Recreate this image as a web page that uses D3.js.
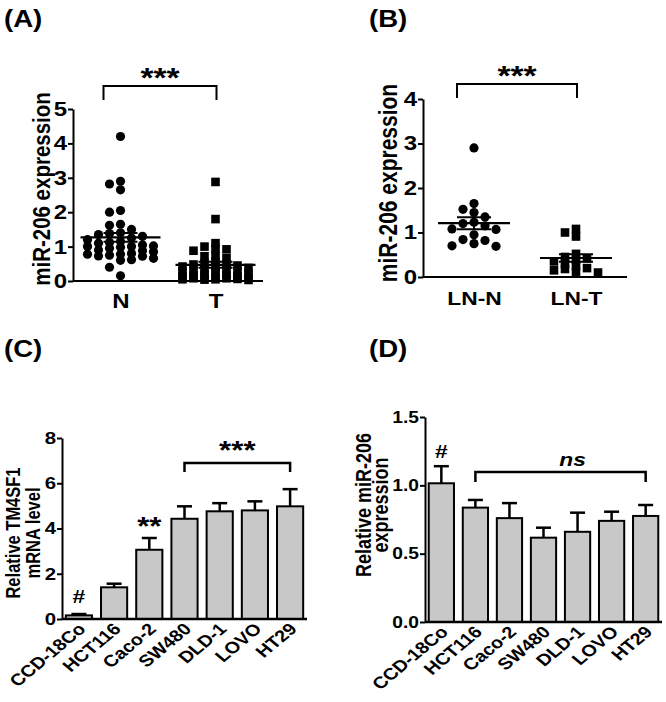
<!DOCTYPE html>
<html>
<head>
<meta charset="utf-8">
<script src="https://cdn.jsdelivr.net/npm/d3@7"></script>
<style>
  html, body { margin: 0; padding: 0; background: #fff; }
  svg text { font-family: "Liberation Sans", Arial, sans-serif; font-weight: bold; fill: #000; }
</style>
</head>
<body>
<svg id="chart" width="666" height="702"></svg>
<script>
// ---------- Data ----------
// Panel A: miR-206 expression, normal (N) vs tumour (T)
const groupsA = ["N", "T"];
const valuesN = [4.2, 2.9, 2.82, 2.65, 2.05, 2.0, 1.65, 1.62, 1.5, 1.4, 1.38, 1.35, 1.3, 1.25, 1.2, 1.15, 1.12, 1.1, 1.05, 1.02, 1.0, 1.0, 0.98, 0.95, 0.9, 0.88, 0.85, 0.8, 0.78, 0.78, 0.75, 0.73, 0.72, 0.66, 0.62, 0.6, 0.4, 0.15];
const valuesT = [2.88, 1.8, 1.1, 1.0, 0.93, 0.92, 0.88, 0.73, 0.72, 0.66, 0.56, 0.52, 0.5, 0.48, 0.45, 0.42, 0.4, 0.38, 0.35, 0.33, 0.3, 0.28, 0.26, 0.25, 0.22, 0.2, 0.18, 0.16, 0.15, 0.13, 0.12, 0.1, 0.1, 0.08, 0.08, 0.06, 0.05, 0.05, 0.04, 0.03];
const ticksA = [0, 1, 2, 3, 4, 5];

// Panel B: lymph-node normal vs tumour
const groupsB = ["LN-N", "LN-T"];
const valuesLNN = [2.9, 1.65, 1.52, 1.45, 1.35, 1.23, 1.2, 1.15, 1.08, 1.07, 0.95, 0.84, 0.82, 0.75, 0.7, 0.69];
const valuesLNT = [1.08, 1.0, 0.91, 0.52, 0.45, 0.42, 0.38, 0.35, 0.3, 0.25, 0.2, 0.18, 0.15, 0.12, 0.1];
const ticksB = [0, 1, 2, 3, 4];

// Panels C & D: cell lines
const cellLines = ["CCD-18Co", "HCT116", "Caco-2", "SW480", "DLD-1", "LOVO", "HT29"];
const tm4sf1Mean = [0.16, 1.4, 3.06, 4.43, 4.76, 4.8, 4.98];
const tm4sf1Err  = [0.06, 0.16, 0.52, 0.55, 0.36, 0.4, 0.76];
const ticksC = [0, 2, 4, 6, 8];
const mir206Mean = [1.015, 0.837, 0.76, 0.617, 0.66, 0.74, 0.776];
const mir206Err  = [0.125, 0.056, 0.11, 0.073, 0.14, 0.067, 0.08];
const ticksD = [0, 0.5, 1.0, 1.5];

// ---------- Helpers ----------
const svg = d3.select("#chart");
const FONT = "'Liberation Sans', Arial, sans-serif";
const SX = 1.2; // the original figure's lettering is horizontally wide

function hText(g, x, y, txt, size, anchor = "middle") {
  return g.append("text").attr("transform", `translate(${x},${y}) scale(${SX},1)`)
    .attr("text-anchor", anchor).attr("font-size", size).text(txt);
}
function vText(g, x, y, txt, size) {
  return g.append("text").attr("transform", `translate(${x},${y}) rotate(-90) scale(1,${SX})`)
    .attr("text-anchor", "middle").attr("font-size", size).text(txt);
}

function styleAxis(g, fontSize) {
  g.selectAll("path.domain").attr("stroke", "#000").attr("stroke-width", 2);
  g.selectAll(".tick line").attr("stroke", "#000").attr("stroke-width", 2);
  g.selectAll(".tick text").attr("font-family", FONT).attr("font-weight", "bold")
    .attr("font-size", fontSize).attr("fill", "#000");
}
function yTickText(axisG, off) {
  axisG.selectAll(".tick text").attr("x", null).attr("transform", `translate(${-off},0) scale(${SX},1)`);
}

function swarm(values, y, minGap, maxCol) {
  const placed = [];
  const sorted = values.slice().sort((a, b) => b - a);
  for (const v of sorted) {
    const py = y(v);
    let chosen = null, best = 0, bestD = -1;
    for (let k = 0; k <= 2 * maxCol; k++) {
      const col = k === 0 ? 0 : (k % 2 ? -Math.ceil(k / 2) : Math.ceil(k / 2));
      const d = d3.min(placed.filter(q => q.col === col), q => Math.abs(q.py - py));
      if (d === undefined || d >= minGap) { chosen = col; break; }
      if (d > bestD) { bestD = d; best = col; }
    }
    if (chosen === null) chosen = best;
    placed.push({ v, col: chosen, py });
  }
  return placed;
}

function sem(arr) { return d3.deviation(arr) / Math.sqrt(arr.length); }

function scatterPanel(opt) {
  const { groups, series, shapes, yDomain, yRange, xRange, ticks, tickFont, labelFont,
          title, titleX, titleY, titleFont, xLabelY, bracketY, starsY, meanHalf, gaps } = opt;
  const y = d3.scaleLinear().domain(yDomain).range(yRange);
  const x = d3.scalePoint().domain(groups).range(xRange).padding(0.5);
  const g = svg.append("g");

  const ya = g.append("g").attr("transform", `translate(${xRange[0]},0)`)
    .call(d3.axisLeft(y).tickValues(ticks).tickFormat(d3.format("d")).tickSize(5).tickSizeOuter(0));
  styleAxis(ya, tickFont);
  yTickText(ya, 6);
  const xa = g.append("g").attr("transform", `translate(0,${yRange[0]})`)
    .call(d3.axisBottom(x).tickSize(0).tickSizeOuter(0));
  styleAxis(xa, labelFont);
  xa.select("path.domain").attr("d", `M${xRange[0]},0H${xRange[1]}`);
  xa.selectAll(".tick text").attr("dy", null).attr("y", null)
    .attr("transform", `translate(0,${xLabelY - yRange[0]}) scale(${SX},1)`);

  groups.forEach((grp, gi) => {
    const vals = series[gi];
    const pts = swarm(vals, y, gaps[gi], 3);
    const cx = x(grp);
    if (shapes[gi] === "circle") {
      g.selectAll(null).data(pts).join("circle")
        .attr("cx", d => cx + d.col * 11).attr("cy", d => d.py).attr("r", 4.6).attr("fill", "#000");
    } else {
      g.selectAll(null).data(pts).join("rect")
        .attr("x", d => cx + d.col * 11 - 4.3).attr("y", d => d.py - 4.3)
        .attr("width", 8.6).attr("height", 8.6).attr("fill", "#000");
    }
    const m = d3.mean(vals), s = sem(vals);
    g.append("line").attr("x1", cx - meanHalf).attr("x2", cx + meanHalf)
      .attr("y1", y(m)).attr("y2", y(m)).attr("stroke", "#000").attr("stroke-width", 2.2);
    g.append("line").attr("x1", cx).attr("x2", cx).attr("y1", y(m - s)).attr("y2", y(m + s))
      .attr("stroke", "#000").attr("stroke-width", 2);
    [m - s, m + s].forEach(v => {
      g.append("line").attr("x1", cx - 17).attr("x2", cx + 17).attr("y1", y(v)).attr("y2", y(v))
        .attr("stroke", "#000").attr("stroke-width", 2);
    });
  });

  const bx1 = x(groups[0]) - 17, bx2 = x(groups[1]) + 1;
  g.append("path").attr("d", `M${bx1},${bracketY + 14}V${bracketY}H${bx2}V${bracketY + 14}`)
    .attr("fill", "none").attr("stroke", "#000").attr("stroke-width", 2);
  hText(g, (bx1 + bx2) / 2, starsY, "***", 28);
  vText(g, titleX, titleY, title, titleFont);
}

function barPanel(opt) {
  const { means, errs, yDomain, yRange, xRange, ticks, fmt, tickFont, labelFont,
          titleLines, titleXs, titleY, titleFonts } = opt;
  const y = d3.scaleLinear().domain(yDomain).range(yRange);
  const x = d3.scaleBand().domain(cellLines).range(xRange).paddingInner(0.2).paddingOuter(0.08);
  const g = svg.append("g");
  const data = cellLines.map((c, i) => ({ c, m: means[i], e: errs[i] }));

  g.selectAll(null).data(data).join("line")
    .attr("x1", d => x(d.c) + x.bandwidth() / 2).attr("x2", d => x(d.c) + x.bandwidth() / 2)
    .attr("y1", d => y(d.m)).attr("y2", d => y(d.m + d.e)).attr("stroke", "#000").attr("stroke-width", 2.5);
  g.selectAll(null).data(data).join("line")
    .attr("x1", d => x(d.c) + x.bandwidth() / 2 - 7.5).attr("x2", d => x(d.c) + x.bandwidth() / 2 + 7.5)
    .attr("y1", d => y(d.m + d.e)).attr("y2", d => y(d.m + d.e)).attr("stroke", "#000").attr("stroke-width", 2.5);
  g.selectAll(null).data(data).join("rect")
    .attr("x", d => x(d.c) + 1).attr("width", x.bandwidth() - 2)
    .attr("y", d => y(d.m)).attr("height", d => y(0) - y(d.m))
    .attr("fill", "#c8c8c8").attr("stroke", "#000").attr("stroke-width", 2);

  const ya = g.append("g").attr("transform", `translate(${xRange[0]},0)`)
    .call(d3.axisLeft(y).tickValues(ticks).tickFormat(fmt).tickSize(5).tickSizeOuter(0));
  styleAxis(ya, tickFont);
  yTickText(ya, 6);
  const xa = g.append("g").attr("transform", `translate(0,${yRange[0]})`)
    .call(d3.axisBottom(x).tickSize(0).tickSizeOuter(0));
  styleAxis(xa, labelFont);
  xa.select("path.domain").attr("d", `M${xRange[0]},0H${xRange[1]}`).attr("stroke-width", 2.5);
  xa.selectAll(".tick text").attr("dy", null).attr("y", null)
    .attr("text-anchor", "end").attr("transform", `translate(8,11) scale(${SX},1) rotate(-45)`);

  titleLines.forEach((t, i) => vText(g, titleXs[i], titleY, t, titleFonts[i]));
  return { x, y, g, data };
}

// ---------- Panel labels ----------
[["(A)", 4, 27], ["(B)", 369, 27], ["(C)", 4, 357], ["(D)", 369, 357]].forEach(([t, px, py]) => {
  hText(svg, px, py, t, 23, "start");
});

// ---------- Panel A ----------
scatterPanel({
  groups: groupsA, series: [valuesN, valuesT], shapes: ["circle", "square"], gaps: [8, 5],
  yDomain: [0, 5], yRange: [281, 109], xRange: [73, 263], ticks: ticksA,
  tickFont: 20, labelFont: 20, title: "miR-206 expression", titleX: 50, titleY: 189, titleFont: 20.5,
  xLabelY: 308, bracketY: 86, starsY: 87, meanHalf: 40
});

// ---------- Panel B ----------
scatterPanel({
  groups: groupsB, series: [valuesLNN, valuesLNT], shapes: ["circle", "square"], gaps: [8, 5],
  yDomain: [0, 4], yRange: [277, 99], xRange: [423, 627], ticks: ticksB,
  tickFont: 20, labelFont: 19, title: "miR-206 expression", titleX: 397, titleY: 183, titleFont: 21,
  xLabelY: 305, bracketY: 84, starsY: 85, meanHalf: 36
});

// ---------- Panel C ----------
const pc = barPanel({
  means: tm4sf1Mean, errs: tm4sf1Err, yDomain: [0, 8], yRange: [619, 438], xRange: [62, 307],
  ticks: ticksC, fmt: d3.format("d"), tickFont: 17, labelFont: 16.5,
  titleLines: ["Relative TM4SF1", "mRNA level"], titleXs: [20, 40], titleY: 533, titleFonts: [16.5, 16.5]
});
{
  const cx = c => pc.x(c) + pc.x.bandwidth() / 2;
  const x1 = cx("SW480"), x2 = cx("HT29"), by = 463;
  pc.g.append("path").attr("d", `M${x1},${by + 9}V${by}H${x2}V${by + 9}`)
    .attr("fill", "none").attr("stroke", "#000").attr("stroke-width", 2.5);
  hText(pc.g, (x1 + x2) / 2, 459, "***", 26);
  hText(pc.g, cx("Caco-2"), 535, "**", 26);
  hText(pc.g, cx("CCD-18Co"), 603, "#", 19);
}

// ---------- Panel D ----------
const pd = barPanel({
  means: mir206Mean, errs: mir206Err, yDomain: [0, 1.5], yRange: [622, 417], xRange: [425, 662],
  ticks: ticksD, fmt: d3.format(".1f"), tickFont: 16, labelFont: 16.5,
  titleLines: ["Relative miR-206", "expression"], titleXs: [371, 388], titleY: 505, titleFonts: [18, 18]
});
{
  const cx = c => pd.x(c) + pd.x.bandwidth() / 2;
  const x1 = cx("HCT116"), x2 = cx("HT29"), by = 472;
  pd.g.append("path").attr("d", `M${x1},${by + 10}V${by}H${x2}V${by + 10}`)
    .attr("fill", "none").attr("stroke", "#000").attr("stroke-width", 2.5);
  hText(pd.g, (x1 + x2) / 2 + 12, 466, "ns", 19).attr("font-weight", "normal").attr("font-style", "italic");
  hText(pd.g, cx("CCD-18Co"), 458, "#", 19);
}
</script>
</body>
</html>
